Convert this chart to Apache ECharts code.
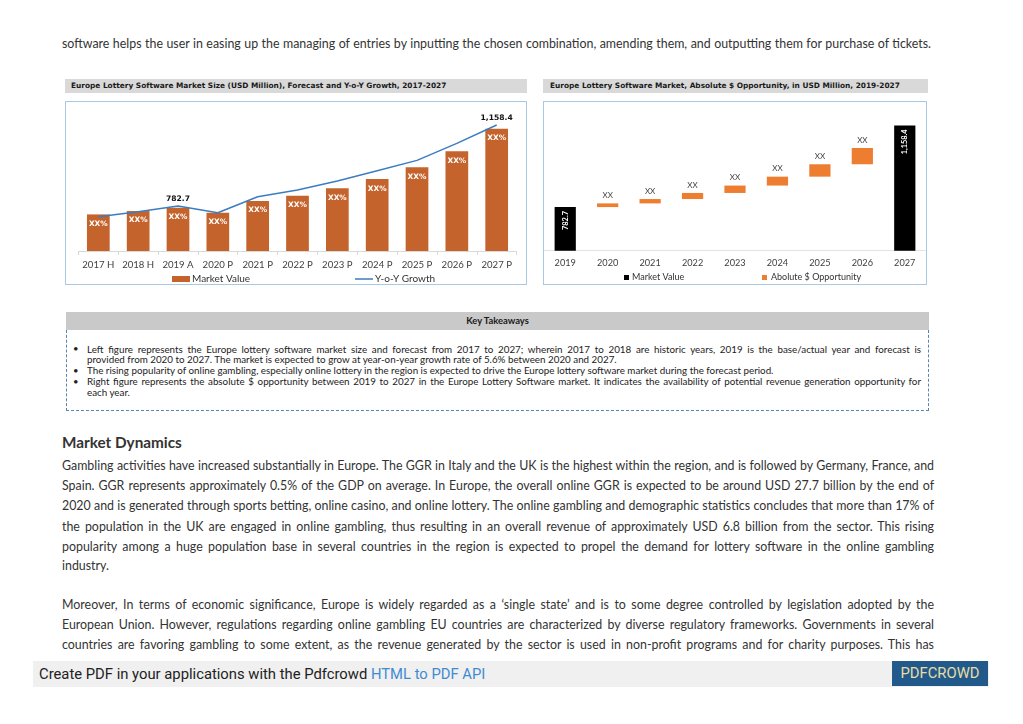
<!DOCTYPE html>
<html>
<head>
<meta charset="utf-8">
<script src="https://cdn.jsdelivr.net/npm/echarts@6/dist/echarts.min.js"></script>
<style>
  html, body { margin:0; padding:0; background:#fff; }
  body { width:1023px; height:724px; position:relative; overflow:hidden; font-family: Lato, "Open Sans", sans-serif; color:#333; }
  .abs { position:absolute; }
  .line { position:absolute; left:62px; width:872px; white-space:nowrap; text-align:justify; text-align-last:justify; font-size:12.4px; line-height:20px; }
  .line.last { text-align-last:left; }
  .titlebar { position:absolute; height:14px; background:#d9d9d9; font-family:"DejaVu Sans", Verdana, sans-serif; font-weight:bold; font-size:7.4px; line-height:14px; color:#1a1a1a; white-space:nowrap; }
  .box { position:absolute; border:1px solid #a9c8e6; box-sizing:border-box; }
  .kt { position:absolute; left:87px; width:834px; font-size:9.8px; line-height:11px; white-space:nowrap; color:#222; text-align:justify; text-align-last:justify; font-family: Lato, sans-serif; }
  .kt.last { text-align-last:left; }
  .bul { position:absolute; left:73px; font-size:9.5px; line-height:11px; color:#222; }
</style>
</head>
<body>
<script>
// ---------- DATA ----------
const leftCategories = ['2017 H','2018 H','2019 A','2020 P','2021 P','2022 P','2023 P','2024 P','2025 P','2026 P','2027 P'];
const marketValue = [751, 767, 782.7, 759, 815, 840, 875, 919, 975, 1051, 1158.4];
const yoyGrowth = [740, 764, 791, 759, 835, 867, 910, 959, 1008, 1089, 1176];
const barLabelText = ['XX%','XX%','XX%','XX%','XX%','XX%','XX%','XX%','XX%','XX%','XX%'];
const highlightedYears = ['2019 A', '2027 P'];

const rightCategories = ['2019','2020','2021','2022','2023','2024','2025','2026','2027'];
const startMarketValue = 782.7;
const endMarketValue = 1158.4;
const absoluteOpportunity = [17, 20, 28, 34, 41, 57, 75];
const opportunityLabelText = ['XX','XX','XX','XX','XX','XX','XX'];
</script>

<div class="line" style="top:34px; width:869px;">software helps the user in easing up the managing of entries by inputting the chosen combination, amending them, and outputting them for purchase of tickets.</div>

<div class="titlebar" style="left:65px; top:79px; width:462px; padding-left:6px; box-sizing:border-box;">Europe Lottery Software Market Size (USD Million), Forecast and Y-o-Y Growth, 2017-2027</div>
<div class="titlebar" style="left:543px; top:79px; width:385px; padding-left:7px; box-sizing:border-box;">Europe Lottery Software Market, Absolute $ Opportunity, in USD Million, 2019-2027</div>

<div class="box" style="left:65px; top:101px; width:462px; height:184px;"></div>
<div id="c1" class="abs" style="left:66px; top:102px; width:460px; height:182px;"></div>
<div class="box" style="left:543px; top:101px; width:384px; height:184px;"></div>
<div id="c2" class="abs" style="left:544px; top:102px; width:382px; height:182px;"></div>

<!-- Key takeaways -->
<div class="abs" style="left:66px; top:312px; width:863px; height:18px; background:#c9c9c9; text-align:center; font-weight:bold; font-size:9.4px; line-height:18px; color:#1a1a1a;">Key Takeaways</div>
<div class="abs" style="left:66px; top:330px; width:863px; height:81px; border:1px dashed #5b84b1; border-top:none; box-sizing:border-box;"></div>
<div class="bul" style="top:343px;">•</div>
<div class="kt" style="top:343.5px;">Left figure represents the Europe lottery software market size and forecast from 2017 to 2027; wherein 2017 to 2018 are historic years, 2019 is the base/actual year and forecast is</div>
<div class="kt last" style="top:354px;">provided from 2020 to 2027. The market is expected to grow at year-on-year growth rate of 5.6% between 2020 and 2027.</div>
<div class="bul" style="top:364.5px;">•</div>
<div class="kt last" style="top:364.5px;">The rising popularity of online gambling, especially online lottery in the region is expected to drive the Europe lottery software market during the forecast period.</div>
<div class="bul" style="top:375.5px;">•</div>
<div class="kt" style="top:375.5px;">Right figure represents the absolute $ opportunity between 2019 to 2027 in the Europe Lottery Software market. It indicates the availability of potential revenue generation opportunity for</div>
<div class="kt last" style="top:386.5px;">each year.</div>

<div class="abs" style="left:62px; top:432px; font-size:15.3px; font-weight:bold; color:#333; line-height:20px;">Market Dynamics</div>
<div class="line" style="top:456px;">Gambling activities have increased substantially in Europe. The GGR in Italy and the UK is the highest within the region, and is followed by Germany, France, and</div>
<div class="line" style="top:476px;">Spain. GGR represents approximately 0.5% of the GDP on average. In Europe, the overall online GGR is expected to be around USD 27.7 billion by the end of</div>
<div class="line" style="top:496px;">2020 and is generated through sports betting, online casino, and online lottery. The online gambling and demographic statistics concludes that more than 17% of</div>
<div class="line" style="top:516.5px;">the population in the UK are engaged in online gambling, thus resulting in an overall revenue of approximately USD 6.8 billion from the sector. This rising</div>
<div class="line" style="top:536.5px;">popularity among a huge population base in several countries in the region is expected to propel the demand for lottery software in the online gambling</div>
<div class="line last" style="top:556px;">industry.</div>
<div class="line" style="top:595px;">Moreover, In terms of economic significance, Europe is widely regarded as a ‘single state’ and is to some degree controlled by legislation adopted by the</div>
<div class="line" style="top:615px;">European Union. However, regulations regarding online gambling EU countries are characterized by diverse regulatory frameworks. Governments in several</div>
<div class="line" style="top:635px;">countries are favoring gambling to some extent, as the revenue generated by the sector is used in non-profit programs and for charity purposes. This has</div>

<!-- footer -->
<div class="abs" style="left:33px; top:661px; width:956px; height:26px; background:#f0f0f0;"></div>
<div class="abs" style="left:39px; top:661px; height:26px; line-height:26px; font-family:Roboto, 'Liberation Sans', sans-serif; font-size:14.8px; color:#222; white-space:nowrap;">Create PDF in your applications with the Pdfcrowd <span style="color:#3f8bd0;">HTML to PDF API</span></div>
<div class="abs" style="left:892px; top:661px; width:96px; height:25px; background:#215a8a; color:#e9dca6; font-family:Roboto, 'Liberation Sans', sans-serif; font-size:14.8px; line-height:25px; text-align:center;">PDFCROWD</div>

<script>
function fmtNum(v) { return v.toLocaleString('en-US', { minimumFractionDigits: 1, maximumFractionDigits: 1 }); }

// ---------- LEFT CHART ----------
const c1 = echarts.init(document.getElementById('c1'));
c1.setOption({
  animation: false,
  textStyle: { fontFamily: 'Lato' },
  grid: { left: 12.4, right: 9.4, top: 9.6, bottom: 33 },
  legend: [
    { data: [{ name: 'Market Value', icon: 'rect' }], left: 101, top: 167, itemWidth: 18, itemHeight: 6, itemGap: 2,
      textStyle: { fontSize: 10, color: '#333', fontFamily: 'Lato', padding: [0,0,0,-3] } },
    { data: [{ name: 'Y-o-Y Growth', icon: 'rect' }], left: 284, top: 167, itemWidth: 18, itemHeight: 1.5, itemGap: 2,
      textStyle: { fontSize: 10, color: '#333', fontFamily: 'Lato', padding: [0,0,0,-3] } }
  ],
  xAxis: {
    type: 'category', data: leftCategories,
    axisLine: { lineStyle: { color: '#d9d9d9' } },
    axisTick: { show: true, length: 4, lineStyle: { color: '#d9d9d9' } },
    axisLabel: { interval: 0, margin: 9, fontSize: 9.6, color: '#404040', fontFamily: 'Lato' }
  },
  yAxis: { type: 'value', min: 577, max: 1240, show: false, splitLine: { show: false } },
  series: [
    {
      name: 'Market Value', type: 'bar', data: marketValue, barWidth: '57%',
      itemStyle: { color: '#c4632b' },
      label: { show: true, position: 'insideTop', distance: 6, color: '#fff', fontWeight: 'bold',
        fontFamily: 'DejaVu Sans', fontSize: 7.4, formatter: p => barLabelText[p.dataIndex] }
    },
    {
      name: 'Y-o-Y Growth', type: 'line', data: yoyGrowth, symbol: 'circle', symbolSize: 0,
      itemStyle: { color: '#3b7dc0' }, lineStyle: { color: '#3b7dc0', width: 1.5 },
      label: { show: true, position: 'top', distance: 3, color: '#111', fontWeight: 'bold', fontFamily: 'DejaVu Sans', fontSize: 7.6,
        formatter: p => highlightedYears.includes(leftCategories[p.dataIndex]) ? fmtNum(marketValue[p.dataIndex]) : '' }
    }
  ]
});

// ---------- RIGHT CHART ----------
const helper = [0];
const oppData = [0];
const mvData = [startMarketValue];
let run = startMarketValue;
absoluteOpportunity.forEach(v => { helper.push(run); oppData.push(v); mvData.push(0); run += v; });
helper.push(0); oppData.push(0); mvData.push(endMarketValue);

const c2 = echarts.init(document.getElementById('c2'));
c2.setOption({
  animation: false,
  textStyle: { fontFamily: 'Lato' },
  grid: { left: 0, right: 0, top: 5.7, bottom: 33.3 },
  legend: [
    { data: [{ name: 'Market Value', icon: 'rect' }], left: 75, top: 166, itemWidth: 5, itemHeight: 5, itemGap: 2,
      textStyle: { fontSize: 9, color: '#333', fontFamily: 'Lato', padding: [0,0,0,-2] } },
    { data: [{ name: 'Abolute $ Opportunity', icon: 'rect' }], left: 213, top: 166, itemWidth: 5, itemHeight: 5, itemGap: 2,
      textStyle: { fontSize: 9, color: '#333', fontFamily: 'Lato', padding: [0,0,0,-1] } }
  ],
  xAxis: {
    type: 'category', data: rightCategories,
    axisLine: { lineStyle: { color: '#e3e3e3' } },
    axisTick: { show: false },
    axisLabel: { interval: 0, margin: 8, fontSize: 9.2, color: '#404040', fontFamily: 'Lato' }
  },
  yAxis: { type: 'value', min: 582, max: 1240, show: false, splitLine: { show: false } },
  series: [
    { name: 'helper', type: 'bar', stack: 'w', data: helper, barWidth: '50%', itemStyle: { color: 'transparent' }, silent: true },
    {
      name: 'Market Value', type: 'bar', stack: 'w', data: mvData, barWidth: '50%', itemStyle: { color: '#000' },
      label: { show: true, position: 'insideTop', rotate: 90, align: 'right', verticalAlign: 'middle', distance: 4,
        color: '#fff', fontWeight: 'bold', fontFamily: 'Lato', fontSize: 7.4,
        formatter: p => p.value ? fmtNum(p.value) : '' }
    },
    {
      name: 'Abolute $ Opportunity', type: 'bar', stack: 'w', data: oppData, barWidth: '50%', itemStyle: { color: '#ed7d31' },
      label: { show: true, position: 'top', distance: 4, color: '#404040', fontFamily: 'Lato', fontSize: 8,
        formatter: p => p.value ? opportunityLabelText[p.dataIndex - 1] : '' }
    }
  ]
});
</script>
</body>
</html>
